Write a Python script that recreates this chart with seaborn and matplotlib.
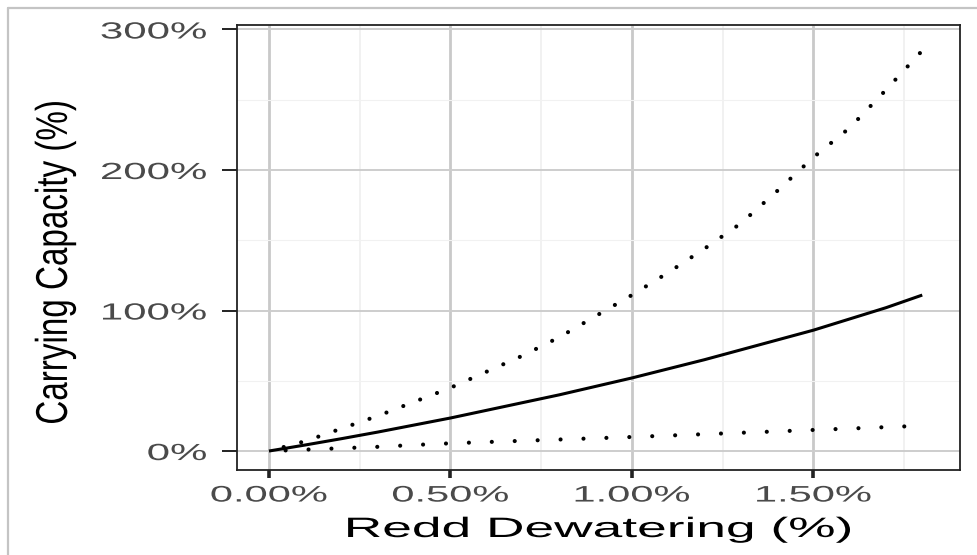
import matplotlib
matplotlib.use("Agg")
import matplotlib.pyplot as plt
from matplotlib.patheffects import AbstractPathEffect
from matplotlib.transforms import Affine2D
from matplotlib.lines import Line2D
import numpy as np
import pandas as pd
import seaborn as sns

# Redd dewatering (%) and modelled carrying capacity (%)
dewatering = [0.0, 0.1, 0.2, 0.3, 0.4, 0.5, 0.6, 0.7, 0.8, 0.9,
              1.0, 1.1, 1.2, 1.3, 1.4, 1.5, 1.6, 1.7, 1.8]
capacity_mid = [0, 4.3, 8.8, 13.5, 18.5, 23.5, 29, 34.5, 40, 46,
                52, 58.5, 65, 72, 79, 86, 94, 102, 111]
capacity_high = [0, 7, 16, 25, 35, 45, 56.5, 68, 81, 96,
                 111, 127, 144, 162, 185, 209, 230, 257, 285]
capacity_low = [0, 1, 2, 3, 4.3, 5.5, 6.4, 7.3, 8.2, 9.1,
                10, 11, 12, 13, 14, 15, 16, 17, 18]

x_ticks = [0.0, 0.5, 1.0, 1.5]
x_tick_labels = ["0.00%", "0.50%", "1.00%", "1.50%"]
y_ticks = [0, 100, 200, 300]
y_tick_labels = ["0%", "100%", "200%", "300%"]
x_title = "Redd Dewatering (%)"
y_title = "Carrying Capacity (%)"


class WideText(AbstractPathEffect):
    """Draw text glyphs stretched horizontally about an anchor of their extent."""

    def __init__(self, sx, anchor=0.5):
        super().__init__()
        self.sx = sx
        self.anchor = anchor

    def draw_path(self, renderer, gc, tpath, affine, rgbFace=None):
        ext = tpath.get_extents(affine)
        cx = ext.x0 + self.anchor * ext.width
        stretch = Affine2D().translate(-cx, 0).scale(self.sx, 1).translate(cx, 0)
        renderer.draw_path(gc, tpath, affine + stretch, rgbFace)


sns.set_theme(style="white")
plt.rcParams["font.family"] = ["Liberation Sans", "DejaVu Sans"]
plt.rcParams["lines.scale_dashes"] = False

W, H = 977, 555
fig = plt.figure(figsize=(W / 100, H / 100), dpi=100)
fig.patch.set_facecolor("white")

left, right, top, bottom = 237, 960, 25, 470
ax = fig.add_axes([left / W, 1 - bottom / H, (right - left) / W, (bottom - top) / H])

df = pd.DataFrame({
    "dewatering": dewatering * 3,
    "capacity": capacity_mid + capacity_high + capacity_low,
    "band": ["mid"] * len(dewatering) + ["high"] * len(dewatering) + ["low"] * len(dewatering),
})

sns.lineplot(data=df[df.band == "mid"], x="dewatering", y="capacity", ax=ax,
             color="black", linewidth=2.2, solid_capstyle="butt", zorder=3)
sns.lineplot(data=df[df.band == "high"], x="dewatering", y="capacity", ax=ax,
             color="black", linewidth=3.0, linestyle=(2.0, (0.01, 13.0)),
             dash_capstyle="round", zorder=3)
sns.lineplot(data=df[df.band == "low"], x="dewatering", y="capacity", ax=ax,
             color="black", linewidth=3.0, linestyle=(4.5, (0.01, 16.5)),
             dash_capstyle="round", zorder=3)

ax.set_xlim(-0.088, 1.904)
ax.set_ylim(-13.5, 303.2)

ax.set_xticks(x_ticks)
ax.set_xticklabels(x_tick_labels)
ax.set_yticks(y_ticks)
ax.set_yticklabels(y_tick_labels)
ax.set_xticks([0.25, 0.75, 1.25, 1.75], minor=True)
ax.set_yticks([50, 150, 250], minor=True)

ax.set_axisbelow(True)
ax.grid(False)
ax.grid(axis="x", which="major", color="#c9c9c9", linewidth=2.0)
ax.grid(axis="y", which="major", color="#cdcdcd", linewidth=1.4)
ax.grid(axis="x", which="minor", color="#efefef", linewidth=1.2)
ax.grid(axis="y", which="minor", color="#f1f1f1", linewidth=0.8)

for spine in ax.spines.values():
    spine.set_visible(True)
    spine.set_color("#222222")
    spine.set_linewidth(1.3)

ax.tick_params(axis="x", which="major", direction="out", length=5.8, width=2.6,
               color="#222222", pad=5.4, labelsize=16.2, labelcolor="#4a4a4a",
               bottom=True)
ax.tick_params(axis="y", which="major", direction="out", length=10.8, width=1.4,
               color="#222222", pad=10.8, labelsize=16.8, labelcolor="#4a4a4a",
               left=True)
ax.tick_params(which="minor", length=0)

for lab in ax.get_xticklabels():
    lab.set_path_effects([WideText(1.85, 0.5)])
for lab in ax.get_yticklabels():
    lab.set_path_effects([WideText(1.8, 1.0)])

ax.set_xlabel("")
ax.set_ylabel("")

fig.text(598.5 / W, 1 - 537 / H, x_title, ha="center", va="baseline",
         fontsize=20.2, color="black",
         path_effects=[WideText(1.9, 0.5)])
fig.text(64 / W, 1 - 263 / H, y_title, ha="center", va="baseline",
         rotation=90, rotation_mode="anchor", fontsize=23.9, color="black",
         path_effects=[WideText(1.34, 0.5)])

# light frame around the figure (top and left edges)
fig.add_artist(Line2D([8 / W, 1.0], [1 - 8 / H, 1 - 8 / H], transform=fig.transFigure,
                      color="#c4c4c4", linewidth=1.6))
fig.add_artist(Line2D([8 / W, 8 / W], [0.0, 1 - 8 / H], transform=fig.transFigure,
                      color="#c4c4c4", linewidth=1.6))

fig.savefig("out.png", dpi=100)
